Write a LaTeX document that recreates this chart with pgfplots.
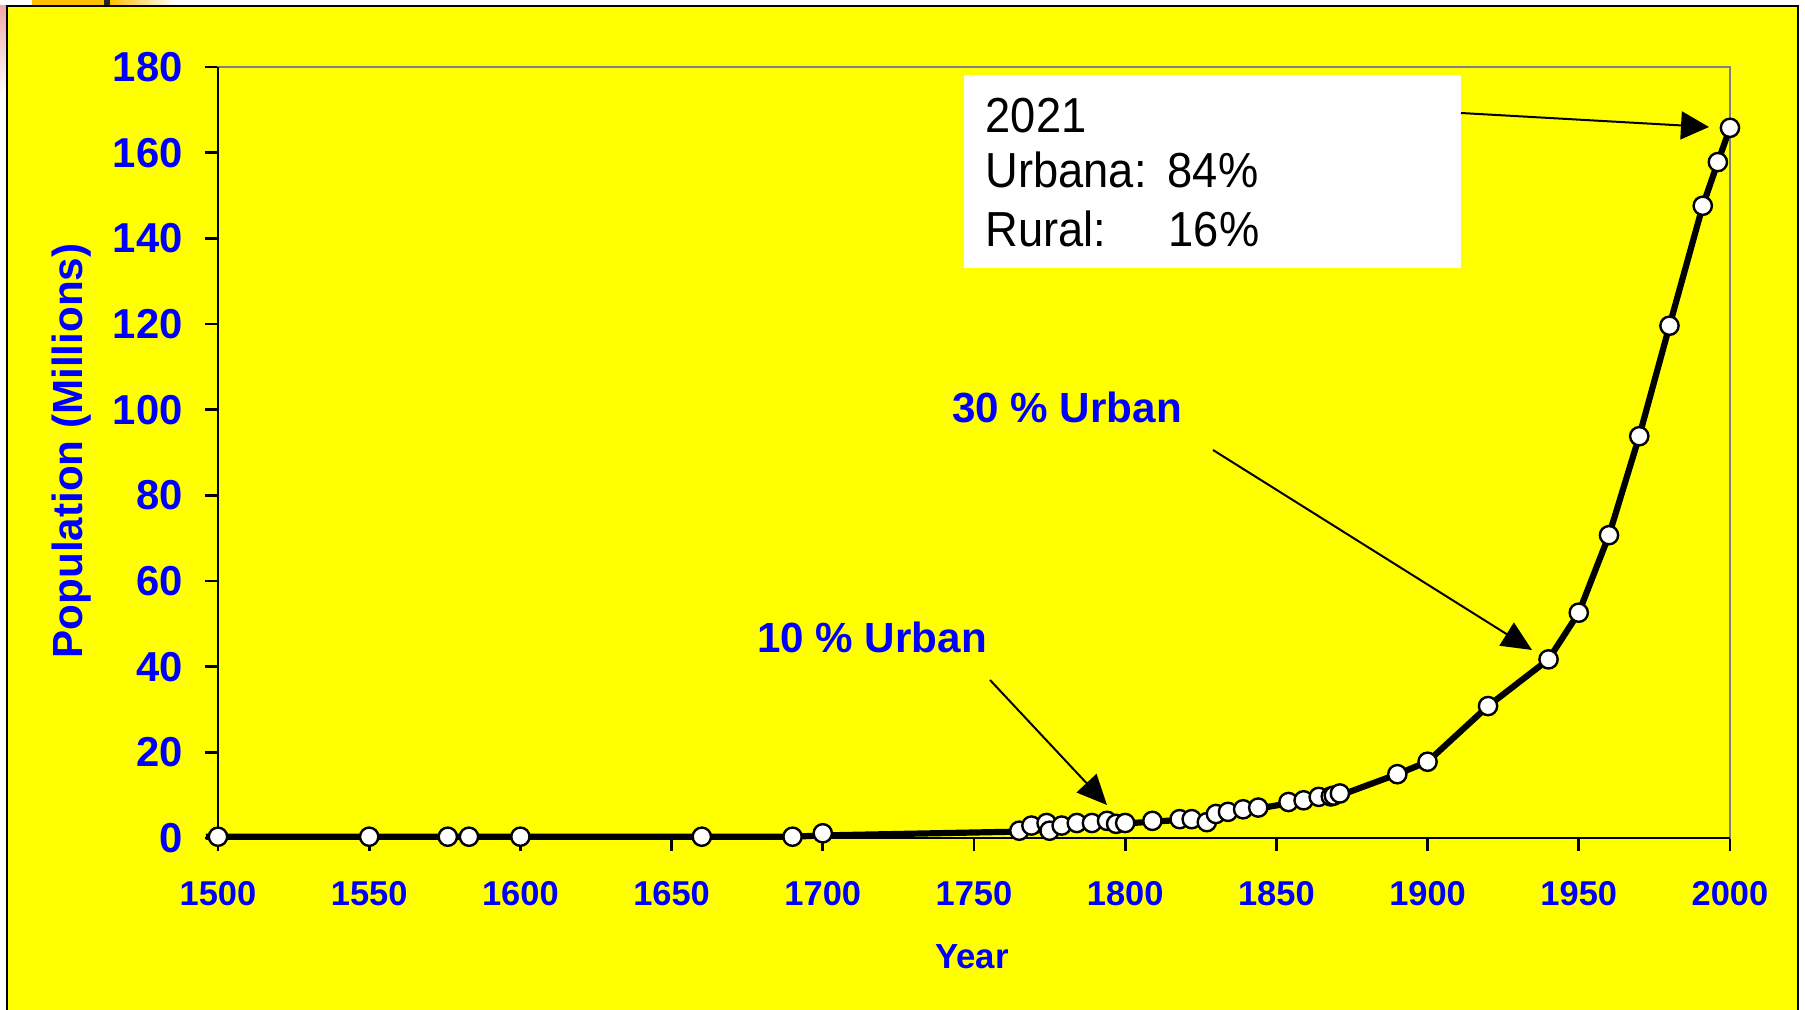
\documentclass[border=0pt]{standalone}
\usepackage{fontspec}
\setmainfont{Liberation Sans}
\newfontfamily\boxfont[FakeStretch=0.92]{Liberation Sans}
\usepackage{pgfplots}
\usepackage{pgfplotstable}
\pgfplotsset{compat=1.18}
\usetikzlibrary{arrows.meta}
\definecolor{bg}{RGB}{255,255,0}
\definecolor{lblue}{RGB}{0,0,255}
\definecolor{orangebar}{RGB}{255,192,0}
\definecolor{pinkish}{RGB}{240,130,130}

\pgfplotstableread{
year pop
1500 0.3
1550 0.3
1576 0.3
1583 0.3
1600 0.3
1660 0.3
1690 0.3
1700 1.1
1765 1.7
1769 2.9
1774 3.5
1775 1.7
1779 2.9
1784 3.5
1789 3.5
1794 4.0
1797 3.3
1800 3.5
1809 4.0
1818 4.4
1822 4.4
1827 3.7
1830 5.6
1834 6.1
1839 6.7
1844 7.1
1854 8.4
1859 8.8
1864 9.6
1868 9.7
1869 9.9
1871 10.4
1890 14.9
1900 17.8
1920 30.8
1940 41.7
1950 52.6
1960 70.7
1970 93.8
1980 119.6
1991 147.6
1996 157.8
2000 165.8
}\popmarks

\pgfplotstableread{
year pop
1496 0.3
1500 0.3
1690 0.3
1700 0.6
1766 1.5
1790 2.8
1800 3.4
1820 4.3
1830 5.2
1845 7.0
1860 8.8
1872 10.2
1890 14.9
1900 17.8
1920 30.8
1940 41.7
1950 52.6
1960 70.7
1970 93.8
1980 119.6
1991 147.6
1996 157.8
2000 165.8
}\popline

\begin{document}
\begin{tikzpicture}
\begin{scope}[x=0.1mm,y=-0.1mm]
\useasboundingbox (0,0) rectangle (1805,1010);
\begin{scope}
\clip (0,0) rectangle (1805,1010);
\fill[white] (0,0) rectangle (1805,1010);
\fill[orangebar] (32,0) rectangle (104,6);
\fill[black!85] (104,0) rectangle (110,6);
\shade[left color=orangebar, right color=white] (110,0) rectangle (175,6);
\shade[top color=pinkish!70, bottom color=white] (0,6) rectangle (7,95);
\draw[line width=0.28mm, fill=bg] (7,6) rectangle (1798,1030);
\end{scope}
\end{scope}

\begin{axis}[
  at={(21.8mm,-83.8mm)}, anchor=south west,
  scale only axis, width=151.2mm, height=77.1mm,
  xmin=1500, xmax=2000, ymin=0, ymax=180,
  xtick={1500,1550,...,2000}, ytick={0,20,...,180},
  clip=false,
  axis line style={draw=gray, line width=0.25mm},
  tick style={black, line width=0.27mm},
  tick align=outside, major tick length=1.3mm,
  xtick pos=bottom, ytick pos=left,
  /pgf/number format/assume math mode=true,
  /pgf/number format/set thousands separator={},
  xticklabel style={font=\fontsize{9.8}{11}\selectfont\bfseries, text=lblue, anchor=center, yshift=-4.3mm},
  yticklabel style={font=\fontsize{11.9}{13}\selectfont\bfseries, text=lblue, anchor=east, xshift=-1.0mm},
  xlabel={Year}, ylabel={Population (Millions)},
  xlabel style={font=\fontsize{9.9}{11}\selectfont\bfseries, text=lblue, at={(axis description cs:0.4987,-0.1543)}, anchor=center},
  ylabel style={font=\fontsize{12}{14}\selectfont\bfseries, text=lblue, at={(axis description cs:-0.0966,0.502)}, anchor=center},
]
\draw[black, line width=0.27mm] (rel axis cs:0,1) -- (rel axis cs:0,0) -- (rel axis cs:1,0);
\addplot[black, line width=0.62mm, no marks, line join=round] table[x=year,y=pop] {\popline};
\addplot[only marks, mark=*, mark size=2.6pt, mark options={fill=white, draw=black, line width=0.24mm}] table[x=year,y=pop] {\popmarks};
\end{axis}

\begin{scope}[x=0.1mm,y=-0.1mm]
\fill[white] (964,75) rectangle (1461,268);
\node[anchor=base west, inner sep=0, font=\boxfont\fontsize{14}{16}\selectfont] at (985,133) {2021};
\node[anchor=base west, inner sep=0, font=\boxfont\fontsize{14}{16}\selectfont] at (985,188) {Urbana:};
\node[anchor=base west, inner sep=0, font=\boxfont\fontsize{14}{16}\selectfont] at (1167,188) {84\%};
\node[anchor=base west, inner sep=0, font=\boxfont\fontsize{14}{16}\selectfont] at (985,247) {Rural:};
\node[anchor=base west, inner sep=0, font=\boxfont\fontsize{14}{16}\selectfont] at (1168,247) {16\%};
\draw[line width=0.2mm, -{Triangle[length=2.8mm,width=2.8mm]}] (1461,113) -- (1709,127);
\draw[line width=0.2mm, -{Triangle[length=3mm,width=2.7mm]}] (1213,450) -- (1532,650);
\draw[line width=0.2mm, -{Triangle[length=3mm,width=2.7mm]}] (990,680) -- (1107,805);
\node[text=lblue, font=\fontsize{12}{14}\selectfont\bfseries] at (1067,407) {30 \% Urban};
\node[text=lblue, font=\fontsize{12}{14}\selectfont\bfseries] at (872,637) {10 \% Urban};
\end{scope}
\end{tikzpicture}
\end{document}
